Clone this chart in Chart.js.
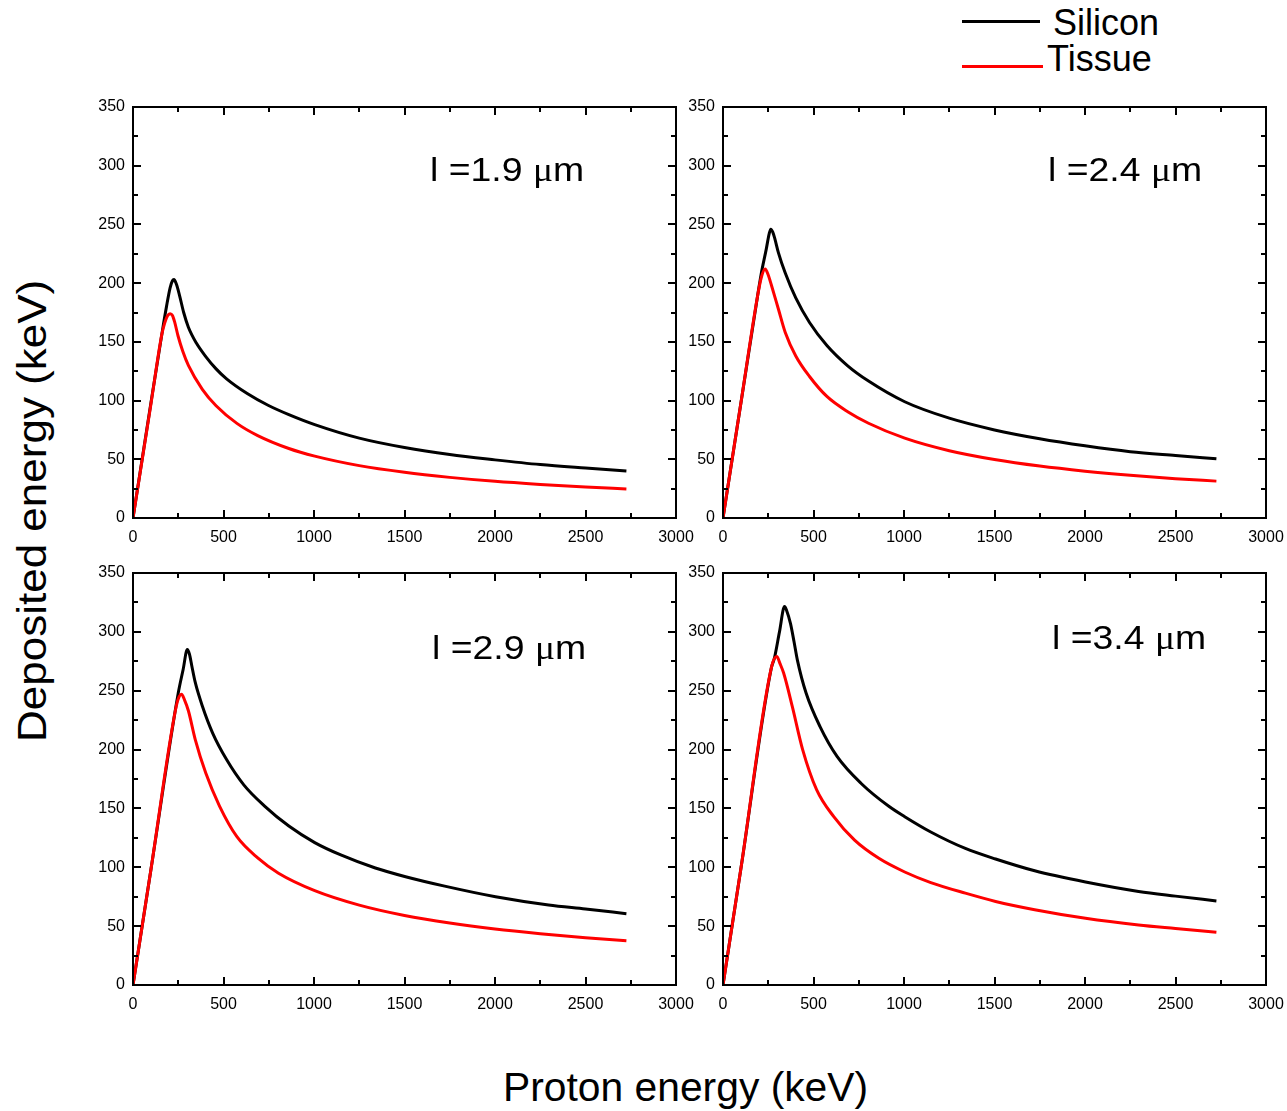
<!DOCTYPE html>
<html><head><meta charset="utf-8">
<script src="https://cdn.jsdelivr.net/npm/chart.js@4.4.1/dist/chart.umd.min.js"></script>
<style>
body{margin:0;background:#fff;width:1287px;height:1111px;position:relative;overflow:hidden;font-family:'Liberation Sans',Arial,sans-serif;}
canvas{position:absolute;}
.t{position:absolute;white-space:nowrap;color:#000;line-height:1;transform-origin:0 0;}
.mu{font-family:'Liberation Serif','DejaVu Serif',serif;}
.leg{position:absolute;height:3px;}
</style></head><body>
<script>
// ---------------- data ----------------
const xTickValues = [0, 500, 1000, 1500, 2000, 2500, 3000];
const yTickValues = [0, 50, 100, 150, 200, 250, 300, 350];
const seriesNames = ['Silicon', 'Tissue'];
const panelThickness = ['1.9', '2.4', '2.9', '3.4'];
const xTitle = 'Proton energy (keV)';
const yTitle = 'Deposited energy (keV)';

// l = 1.9 um
const si19E = [0, 100, 163, 185, 205, 218, 226, 240, 258, 280, 306, 350, 402, 459, 517, 631, 746, 861, 1004, 1250, 1500, 1750, 2000, 2250, 2500, 2726];
const si19D = [0, 99, 160, 180, 196, 202, 203, 199, 189, 175, 162.5, 149, 137.5, 127, 118.5, 106, 96, 88, 79.5, 68, 60, 54, 49.5, 45.5, 42.5, 40];
const ts19E = [0, 100, 160, 175, 190, 205, 218, 230, 249, 275, 306, 383, 459, 574, 689, 861, 1004, 1250, 1500, 1750, 2000, 2250, 2500, 2726];
const ts19D = [0, 98, 157, 166, 172, 174, 172.5, 167, 155, 142, 130, 109.6, 95.6, 80.6, 70.2, 59.2, 52.7, 44.6, 38.9, 34.6, 31.2, 28.6, 26.4, 24.7];

// l = 2.4 um
const si24E = [0, 100, 191, 210, 239, 255, 264, 275, 287, 306, 344, 402, 478, 574, 689, 804, 1004, 1250, 1500, 1750, 2000, 2250, 2500, 2726];
const si24D = [0, 99, 189, 207, 229, 242, 246, 243.5, 237.5, 226, 208.6, 187.4, 166.5, 146.9, 129.6, 116.6, 99, 85, 75, 67.5, 61.5, 56.5, 53.2, 50.4];
const ts24E = [0, 100, 191, 212, 233, 250, 268, 306, 344, 402, 478, 574, 689, 804, 1004, 1250, 1500, 1750, 2000, 2250, 2500, 2726];
const ts24D = [0, 99, 189, 205, 212, 207, 198, 178, 158, 138, 120.5, 103.5, 90.5, 80.7, 68, 57.3, 49.8, 44.2, 39.9, 36.4, 33.5, 31.4];

// l = 2.9 um
const si29E = [0, 100, 250, 277, 300, 312, 325, 344, 383, 440, 517, 612, 727, 861, 1004, 1148, 1339, 1506, 1722, 2003, 2296, 2500, 2726];
const si29D = [0, 99, 248, 268, 285, 281, 271, 257, 237, 214, 191.5, 170, 152, 135, 121, 110.5, 99.4, 92, 84, 75, 68, 64.6, 60.6];
const ts29E = [0, 100, 239, 255, 268, 285, 306, 344, 402, 478, 574, 689, 804, 1004, 1250, 1500, 1750, 2000, 2250, 2500, 2726];
const ts29D = [0, 99, 237, 245, 247, 242, 233, 208.5, 180, 152, 126, 108, 95, 80.2, 67.9, 59.1, 52.6, 47.5, 43.5, 40.1, 37.6];

// l = 3.4 um
const si34E = [0, 100, 268, 283, 312, 340, 352, 373, 392, 411, 459, 536, 631, 765, 918, 1004, 1148, 1339, 1506, 1722, 2003, 2296, 2500, 2726];
const si34D = [0, 100, 270, 277, 300, 321.5, 318, 307, 292, 276, 248, 219.5, 194, 171, 151.6, 143, 130, 116, 107, 97, 87.5, 79.5, 75.5, 71.4];
const ts34E = [0, 100, 268, 297, 315, 335, 383, 440, 517, 612, 727, 861, 1004, 1148, 1339, 1506, 1722, 2003, 2296, 2500, 2726];
const ts34D = [0, 100, 270, 279, 273, 265, 236.5, 200, 166, 143, 123, 107.6, 96, 87, 78, 71, 64, 56.7, 51, 48, 44.8];

const panelSeries = [
  [si19E, si19D, ts19E, ts19D],
  [si24E, si24D, ts24E, ts24D],
  [si29E, si29D, ts29E, ts29D],
  [si34E, si34D, ts34E, ts34D]
];

// ---------------- layout ----------------
const AREA_W = 543, Y_W = 63, PAD_T = 17, PAD_R = 24, X_H = 35;
const panelBoxes = [
  {left: 133, top: 107, h: 411, lx: 430, lb: 181},
  {left: 723, top: 107, h: 411, lx: 1048, lb: 181},
  {left: 133, top: 573, h: 412, lx: 432, lb: 659},
  {left: 723, top: 573, h: 412, lx: 1052, lb: 649}
];
const FONT = "'Liberation Sans', Arial, sans-serif";

function pts(ex, ey) { return ex.map((v, i) => ({x: v, y: ey[i]})); }

const frameTicks = {
  id: 'frameTicks',
  afterDatasetsDraw(chart) {
    const {ctx, chartArea: a, scales: {x, y}} = chart;
    ctx.save();
    ctx.strokeStyle = '#000';
    ctx.lineWidth = 2;
    ctx.strokeRect(a.left, a.top, a.right - a.left, a.bottom - a.top);
    ctx.beginPath();
    for (let v = x.min; v <= x.max; v += 250) {
      const len = (v % 500 === 0) ? 8 : 5;
      const p = Math.round(x.getPixelForValue(v));
      ctx.moveTo(p, a.bottom); ctx.lineTo(p, a.bottom - len);
      ctx.moveTo(p, a.top); ctx.lineTo(p, a.top + len);
    }
    for (let v = y.min; v <= y.max; v += 25) {
      const len = (v % 50 === 0) ? 8 : 5;
      const p = Math.round(y.getPixelForValue(v));
      ctx.moveTo(a.left, p); ctx.lineTo(a.left + len, p);
      ctx.moveTo(a.right, p); ctx.lineTo(a.right - len, p);
    }
    ctx.stroke();
    ctx.restore();
  }
};

panelBoxes.forEach((b, i) => {
  const c = document.createElement('canvas');
  const W = Y_W + AREA_W + PAD_R, H = PAD_T + b.h + X_H;
  c.width = W; c.height = H;
  c.style.left = (b.left - Y_W) + 'px';
  c.style.top = (b.top - PAD_T) + 'px';
  c.style.width = W + 'px'; c.style.height = H + 'px';
  document.body.appendChild(c);
  const s = panelSeries[i];
  new Chart(c, {
    type: 'line',
    data: {
      datasets: [
        {label: seriesNames[0], data: pts(s[0], s[1]), borderColor: '#000000', borderWidth: 3, pointRadius: 0, cubicInterpolationMode: 'monotone', order: 1},
        {label: seriesNames[1], data: pts(s[2], s[3]), borderColor: '#ff0000', borderWidth: 3, pointRadius: 0, cubicInterpolationMode: 'monotone', order: 0}
      ]
    },
    options: {
      responsive: false, animation: false, devicePixelRatio: 1,
      layout: {padding: {left: 0, top: PAD_T, right: PAD_R, bottom: 0}},
      plugins: {legend: {display: false}, tooltip: {enabled: false}},
      scales: {
        x: {
          type: 'linear', min: 0, max: 3000,
          afterBuildTicks: sc => { sc.ticks = xTickValues.map(v => ({value: v})); },
          afterFit: sc => { sc.height = X_H; sc.paddingLeft = 0; sc.paddingRight = 0; },
          grid: {display: false, drawTicks: false},
          border: {display: false},
          ticks: {color: '#000', font: {family: FONT, size: 16}, padding: 10, maxRotation: 0, autoSkip: false, callback: v => String(v)}
        },
        y: {
          type: 'linear', min: 0, max: 350,
          afterBuildTicks: sc => { sc.ticks = yTickValues.map(v => ({value: v})); },
          afterFit: sc => { sc.width = Y_W; sc.paddingTop = 0; sc.paddingBottom = 0; },
          grid: {display: false, drawTicks: false},
          border: {display: false},
          ticks: {color: '#000', font: {family: FONT, size: 16}, padding: 8, callback: v => String(v)}
        }
      }
    },
    plugins: [frameTicks]
  });
  const d = document.createElement('div');
  d.className = 't';
  d.style.fontSize = '34px';
  d.style.left = b.lx + 'px';
  d.style.top = (b.lb - 0.8465 * 34) + 'px';
  d.style.transform = 'scaleX(1.1)';
  d.append('l =' + panelThickness[i] + ' ');
  const mu = document.createElement('span');
  mu.className = 'mu'; mu.textContent = '\u03bc';
  d.appendChild(mu);
  d.append('m');
  document.body.appendChild(d);
});

// axis titles
const xt = document.createElement('div');
xt.className = 't'; xt.style.fontSize = '40px';
xt.style.left = '503px'; xt.style.top = (1101 - 0.8465 * 40) + 'px';
xt.style.transform = 'scaleX(1.02)';
xt.textContent = xTitle;
document.body.appendChild(xt);

const yt = document.createElement('div');
yt.className = 't'; yt.style.fontSize = '40px';
yt.style.left = '12px'; yt.style.top = '742px';
yt.style.transform = 'rotate(-90deg) scaleX(1.1)';
yt.textContent = yTitle;
document.body.appendChild(yt);

// legend
const legItems = [
  {color: '#000000', y: 21, x1: 962, x2: 1040, tx: 1053, tb: 35},
  {color: '#ff0000', y: 66, x1: 962, x2: 1043, tx: 1047, tb: 71}
];
legItems.forEach((l, i) => {
  const ln = document.createElement('div');
  ln.className = 'leg';
  ln.style.background = l.color;
  ln.style.left = l.x1 + 'px'; ln.style.width = (l.x2 - l.x1) + 'px';
  ln.style.top = (l.y - 1.5) + 'px';
  document.body.appendChild(ln);
  const tx = document.createElement('div');
  tx.className = 't'; tx.style.fontSize = '36px';
  tx.style.left = l.tx + 'px'; tx.style.top = (l.tb - 0.8465 * 36) + 'px';
  tx.textContent = seriesNames[i];
  document.body.appendChild(tx);
});
</script>
</body></html>
